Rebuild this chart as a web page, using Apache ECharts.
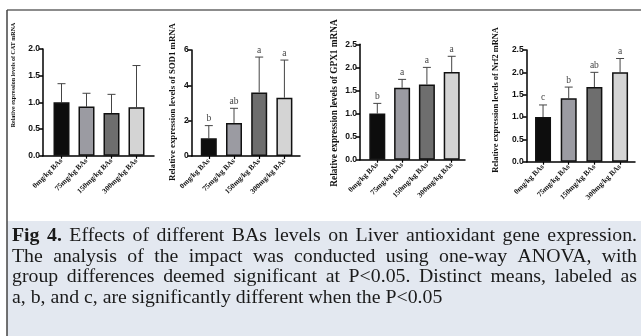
<!DOCTYPE html>
<html><head><meta charset="utf-8">
<script src="https://cdn.jsdelivr.net/npm/echarts@6/dist/echarts.min.js"></script>
<style>html,body{margin:0;padding:0;background:#fff}#c{width:641px;height:336px}</style>
</head><body><div id="c"></div>
<script>
// ---------- data ----------
const categories = ['0mg/kg BAs', '75mg/kg BAs', '150mg/kg BAs', '300mg/kg BAs'];

const catMean = [1.00, 0.92, 0.80, 0.91];
const catSD = [0.35, 0.25, 0.35, 0.78];
const catLetters = ['', '', '', ''];

const sodMean = [1.00, 1.87, 3.60, 3.30];
const sodSD = [0.72, 0.83, 2.00, 2.13];
const sodLetters = ['b', 'ab', 'a', 'a'];

const gpxMean = [1.00, 1.56, 1.63, 1.90];
const gpxSD = [0.22, 0.18, 0.37, 0.34];
const gpxLetters = ['b', 'a', 'a', 'a'];

const nrfMean = [1.00, 1.42, 1.67, 2.00];
const nrfSD = [0.27, 0.25, 0.33, 0.31];
const nrfLetters = ['c', 'b', 'ab', 'a'];

const yTitles = [
  'Relative expression levels of CAT mRNA',
  'Relative expression levels of SOD1 mRNA',
  'Relative expression levels of GPX1 mRNA',
  'Relative expression levels of Nrf2 mRNA'
];
const yMax = [2, 6, 2.5, 2.5];
const yInterval = [0.5, 2, 0.5, 0.5];
const yDecimals = [1, 0, 1, 1];

const captionLines = [
  'Fig 4. Effects of different BAs levels on Liver antioxidant gene expression.',
  'The analysis of the impact was conducted using one-way ANOVA, with',
  'group differences deemed significant at P<0.05. Distinct means, labeled as',
  'a, b, and c, are significantly different when the P<0.05'
];

// ---------- layout / style ----------
const barColors = ['#0d0d0d', '#9b9ba2', '#6e6e6e', '#d4d4d4'];
const layouts = [
  {ax: 43,    top: 49,   bottom: 155.7, xEnd: 154, bandL: 49,    bandW: 100,   tX: 13,  tY: 75,  tS: 6},
  {ax: 191.7, top: 50,   bottom: 156,   xEnd: 300, bandL: 196.2, bandW: 100.8, tX: 173, tY: 102, tS: 8.8},
  {ax: 360,   top: 44.3, bottom: 159.7, xEnd: 465, bandL: 364.9, bandW: 99.2,  tX: 335, tY: 103, tS: 9.3},
  {ax: 526.7, top: 50,   bottom: 161.7, xEnd: 635, bandL: 530.2, bandW: 102.7, tX: 496, tY: 100, tS: 8.4}
];
const panelData = [
  [catMean, catSD, catLetters],
  [sodMean, sodSD, sodLetters],
  [gpxMean, gpxSD, gpxLetters],
  [nrfMean, nrfSD, nrfLetters]
];

const grid = [], xAxis = [], yAxis = [], series = [], graphic = [];

layouts.forEach((L, i) => {
  const [means, sds, letters] = panelData[i];
  const h = L.bottom - L.top;
  const a = 2 * i, b = 2 * i + 1;
  grid.push({left: L.ax, top: L.top, width: L.xEnd - L.ax, height: h, outerBoundsMode: 'none'});
  grid.push({left: L.bandL, top: L.top, width: L.bandW, height: h, outerBoundsMode: 'none'});
  xAxis.push({gridIndex: a, type: 'value', min: 0, max: 1,
    axisLine: {show: true, onZero: false, lineStyle: {color: '#000', width: 1.5}},
    axisTick: {show: false}, axisLabel: {show: false}, splitLine: {show: false}});
  yAxis.push({gridIndex: a, type: 'value', min: 0, max: yMax[i], interval: yInterval[i],
    axisLine: {show: true, lineStyle: {color: '#000', width: 1.5}},
    axisTick: {show: true, length: 4, lineStyle: {color: '#000', width: 1.5}},
    axisLabel: {fontFamily: 'Liberation Sans', fontWeight: 'bold', fontSize: 8.5, color: '#111', margin: 3,
      formatter: v => v.toFixed(yDecimals[i])},
    splitLine: {show: false}});
  xAxis.push({gridIndex: b, type: 'category', data: categories,
    axisLine: {show: false, onZero: false},
    axisTick: {show: true, alignWithLabel: true, length: 3, lineStyle: {color: '#000', width: 1.2}},
    axisLabel: {interval: 0, rotate: 45, fontFamily: 'Liberation Serif', fontWeight: 'bold', fontSize: 7.5,
      color: '#111', margin: 4}});
  yAxis.push({gridIndex: b, type: 'value', min: 0, max: yMax[i], interval: yInterval[i], show: false});

  series.push({type: 'custom', xAxisIndex: b, yAxisIndex: b, z: 2,
    data: means.map((m, j) => [j, m, m + sds[j]]),
    renderItem: (params, api) => {
      const x = api.value(0);
      const p0 = api.coord([x, api.value(1)]);
      const p1 = api.coord([x, api.value(2)]);
      const letter = letters[params.dataIndex];
      const st = {stroke: '#444', lineWidth: 1};
      const children = [
        {type: 'line', shape: {x1: p0[0], y1: p0[1], x2: p1[0], y2: p1[1]}, style: st},
        {type: 'line', shape: {x1: p1[0] - 4, y1: p1[1], x2: p1[0] + 4, y2: p1[1]}, style: st}
      ];
      if (letter) children.push({type: 'text', x: p1[0], y: p1[1] - 2,
        style: {text: letter, fill: '#444', font: '9.5px "Liberation Serif"',
          textAlign: 'center', align: 'center', textVerticalAlign: 'bottom', verticalAlign: 'bottom'}});
      return {type: 'group', children};
    }});
  series.push({type: 'bar', xAxisIndex: b, yAxisIndex: b, barWidth: 16, z: 3,
    itemStyle: {borderColor: '#111', borderWidth: 1.5},
    data: means.map((m, j) => ({value: m, itemStyle: {color: barColors[j]}}))});

  graphic.push({type: 'text', x: L.tX, y: L.tY, rotation: Math.PI / 2,
    style: {text: yTitles[i], fill: '#111', font: 'bold ' + L.tS + 'px "Liberation Serif"',
      textAlign: 'center', align: 'center', textVerticalAlign: 'middle', verticalAlign: 'middle'}});
});

// frame and caption box
graphic.push({type: 'rect', shape: {x: 7, y: 221, width: 634, height: 115}, style: {fill: '#e3e8f0'}, z: -1});
graphic.push({type: 'line', shape: {x1: 7, y1: 10, x2: 641, y2: 10}, style: {stroke: '#8c8c8c', lineWidth: 2}});
graphic.push({type: 'line', shape: {x1: 7, y1: 10, x2: 7, y2: 336}, style: {stroke: '#444', lineWidth: 1.5}});

// caption (justified lines)
const CAP = 18, CAP_SX = 1.1, capX0 = 12, capX1 = 637, capY = [236, 257, 277.5, 298];
const ctx = document.createElement('canvas').getContext('2d');
function fontOf(bold) { return (bold ? 'bold ' : '') + CAP + 'px "Liberation Serif"'; }
function measure(t, bold) { ctx.font = fontOf(bold); return ctx.measureText(t).width * CAP_SX; }
captionLines.forEach((line, li) => {
  const words = line.split(' ');
  const bolds = words.map((w, k) => li === 0 && k < 2);
  const widths = words.map((w, k) => measure(w, bolds[k]));
  const total = widths.reduce((s, v) => s + v, 0);
  const justify = li < captionLines.length - 1;
  const gap = justify ? (capX1 - capX0 - total) / (words.length - 1) : measure(' ', false);
  let x = capX0;
  words.forEach((w, k) => {
    graphic.push({type: 'text', x: x, y: capY[li], scaleX: CAP_SX,
      style: {text: w, fill: '#1a1a1a', font: fontOf(bolds[k]), textAlign: 'left', align: 'left',
        textVerticalAlign: 'middle', verticalAlign: 'middle'}});
    x += widths[k] + gap;
  });
});

const chart = echarts.init(document.getElementById('c'), null, {renderer: 'canvas'});
chart.setOption({animation: false, backgroundColor: '#fff', grid, xAxis, yAxis, series, graphic});
</script>
</body></html>
